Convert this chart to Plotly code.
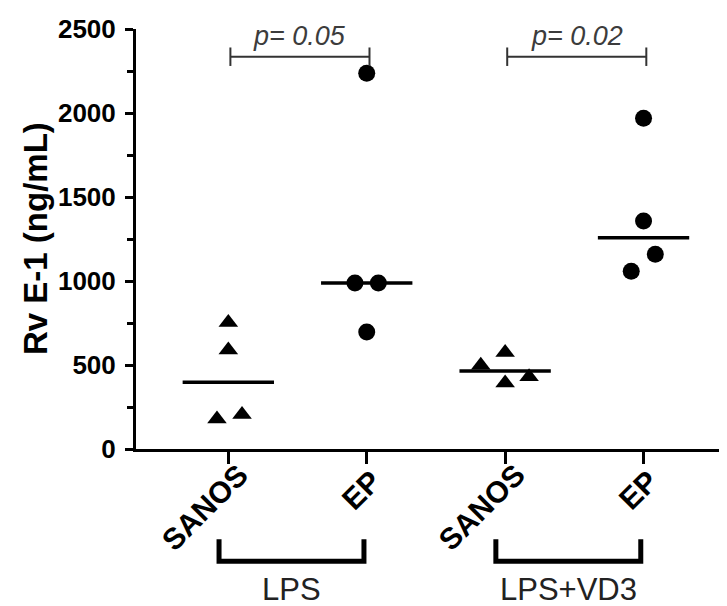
import numpy as np
import plotly.graph_objects as go

# ---- data ----
categories = ["SANOS", "EP", "SANOS", "EP"]
groups = ["LPS", "LPS+VD3"]
lps_sanos = [753, 590, 178, 205]
lps_ep = [988, 988, 696, 2237]
vd3_sanos = [575, 499, 393, 430]
vd3_ep = [1969, 1357, 1159, 1058]
p_labels = ["p= 0.05", "p= 0.02"]
y_ticks = [0, 500, 1000, 1500, 2000, 2500]

series = [lps_sanos, lps_ep, vd3_sanos, vd3_ep]
symbols = ["triangle-up", "circle", "triangle-up", "circle"]
# horizontal scatter offsets of the individual points (category units)
jitter = [
    [0.0, 0.0, -0.082, 0.099],
    [-0.085, 0.084, 0.0, 0.0],
    [0.0, -0.176, 0.0, 0.173],
    [0.0, 0.0, 0.085, -0.089],
]
group_spans = [(0, 1), (2, 3)]
# pixel offsets of the centre of each rotated category label from its tick
label_shift = {"SANOS": (-24, -58), "EP": (-6, -41)}

FONT = "Liberation Sans, Arial, sans-serif"
fig = go.Figure()

for i, vals in enumerate(series):
    xs = [i + j for j in jitter[i]]
    fig.add_trace(go.Scatter(
        x=xs, y=vals, mode="markers",
        marker=dict(symbol=symbols[i], size=17,
                    color="black", line=dict(width=0)),
        showlegend=False, hoverinfo="y"))
    med = float(np.median(vals))
    fig.add_trace(go.Scatter(
        x=[i - 0.33, i + 0.33], y=[med, med], mode="lines",
        line=dict(color="black", width=3.5), showlegend=False, hoverinfo="skip"))

# rotated category labels
for i, c in enumerate(categories):
    dx, dy = label_shift[c]
    fig.add_annotation(x=i, y=0, xref="x", yref="y", text=f"<b>{c}</b>",
                       textangle=-45, showarrow=False, xanchor="center",
                       yanchor="middle", xshift=dx, yshift=dy,
                       font=dict(family=FONT, size=30, color="black"))

# significance brackets
for (a, b), lab in zip(group_spans, p_labels):
    x0, x1 = a + 0.015, b + 0.02
    yb = 2335
    fig.add_shape(type="line", x0=x0, x1=x1, y0=yb, y1=yb, xref="x", yref="y",
                  line=dict(color="#333333", width=2))
    for xx in (x0, x1):
        fig.add_shape(type="line", x0=xx, x1=xx, y0=yb - 55, y1=yb + 55,
                      xref="x", yref="y", line=dict(color="#333333", width=2))
    fig.add_annotation(x=(x0 + x1) / 2, y=2458, xref="x", yref="y", text=lab,
                       showarrow=False, yanchor="middle",
                       font=dict(family=FONT, size=27, color="#3c3c3c", style="italic"))

# group brackets below the axis
for (a, b), g in zip(group_spans, groups):
    x0, x1 = a - 0.067, b - 0.02
    ytop, ybot = -0.215, -0.267
    fig.add_shape(type="path",
                  path=f"M {x0} {ytop} L {x0} {ybot} L {x1} {ybot} L {x1} {ytop}",
                  xref="x", yref="paper", line=dict(color="black", width=5))
    fig.add_annotation(x=(x0 + x1) / 2, y=-0.335, xref="x", yref="paper", text=g,
                       showarrow=False, yanchor="middle",
                       font=dict(family=FONT, size=31, color="#222222"))

# y axis title
fig.add_annotation(x=0, y=0.5, xref="paper", yref="paper", xshift=-101,
                   text="<b>Rv E-1 (ng/mL)</b>", textangle=-90, showarrow=False,
                   xanchor="center", yanchor="middle",
                   font=dict(family=FONT, size=33, color="black"))

fig.update_xaxes(
    range=[-0.667, 3.603], tickmode="array", tickvals=[0, 1, 2, 3],
    ticktext=["", "", "", ""],
    ticks="outside", ticklen=12, tickwidth=3, tickcolor="black",
    showline=True, linecolor="black", linewidth=3, showgrid=False, zeroline=False)
fig.update_yaxes(
    range=[0, 2500], tickmode="array", tickvals=y_ticks,
    ticktext=[f"<b>{t}</b>" for t in y_ticks],
    ticks="outside", ticklen=8, tickwidth=3, tickcolor="black",
    minor=dict(dtick=250, ticks="outside", ticklen=6, tickwidth=3, tickcolor="black"),
    showline=True, linecolor="black", linewidth=3, showgrid=False, zeroline=False,
    ticklabelstandoff=4,
    tickfont=dict(family=FONT, size=26, color="black"))

# page body adds an 8px margin, so the figure is 8px smaller than the window
fig.update_layout(
    width=719, height=598, margin=dict(l=128, r=0, t=21, b=157),
    plot_bgcolor="white", paper_bgcolor="white", font=dict(family=FONT))

fig.write_html("out.html")
